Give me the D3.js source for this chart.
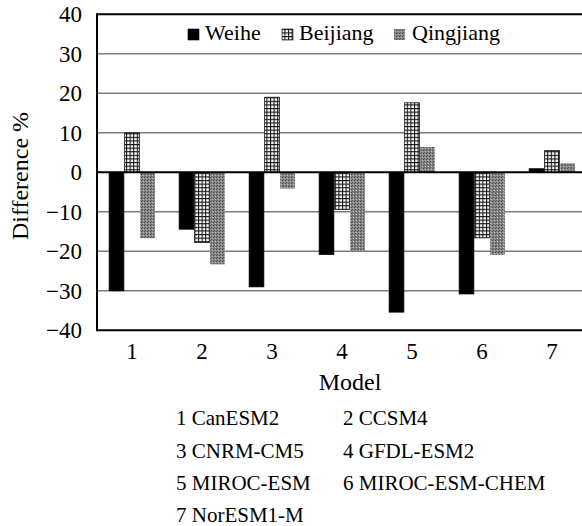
<!DOCTYPE html>
<html><head><meta charset="utf-8">
<script src="https://cdn.jsdelivr.net/npm/d3@7"></script>
<style>body{margin:0;background:#fff;} svg{display:block;}</style>
</head><body>
<script>
const models = ["1","2","3","4","5","6","7"];
const series = ["Weihe","Beijiang","Qingjiang"];
const weihe     = [-30.0, -14.4, -29.0, -20.8, -35.4, -30.8, 0.9];
const beijiang  = [10.0, -17.8, 19.0, -9.4, 17.6, -16.6, 5.5];
const qingjiang = [-16.7, -23.3, -4.1, -20.1, 6.4, -20.9, 2.3];
const yTicks = [-40,-30,-20,-10,0,10,20,30,40];
const modelNames = ["1 CanESM2","2 CCSM4","3 CNRM-CM5","4 GFDL-ESM2","5 MIROC-ESM","6 MIROC-ESM-CHEM","7 NorESM1-M"];

const FONT = "'Liberation Serif', 'Times New Roman', 'DejaVu Serif', serif";
const W = 582, H = 526;
const svg = d3.select("body").append("svg").attr("width", W).attr("height", H)
  .style("font-family", FONT);
const defs = svg.append("defs");
// grid pattern
const pg = defs.append("pattern").attr("id","grid").attr("patternUnits","userSpaceOnUse")
  .attr("width",3.6).attr("height",3.6);
pg.append("rect").attr("width",3.6).attr("height",3.6).attr("fill","#fff");
pg.append("path").attr("d","M0,0.5H3.6M0.5,0V3.6").attr("stroke","#111").attr("stroke-width",1.1);
// stipple pattern
const ps = defs.append("pattern").attr("id","stip").attr("patternUnits","userSpaceOnUse")
  .attr("width",3).attr("height",3);
ps.append("rect").attr("width",3).attr("height",3).attr("fill","#858585");
ps.append("rect").attr("x",0).attr("y",0).attr("width",1).attr("height",1).attr("fill","#4a4a4a");
ps.append("rect").attr("x",2).attr("y",1).attr("width",1).attr("height",1).attr("fill","#bcbcbc");
ps.append("rect").attr("x",1).attr("y",2).attr("width",1).attr("height",1).attr("fill","#5a5a5a");

const fills = {Weihe:"#000", Beijiang:"url(#grid)", Qingjiang:"url(#stip)"};
const strokes = {Weihe:"#000", Beijiang:"#111", Qingjiang:"none"};

const pLeft = 97, pRight = 587, pTop = 14.3, pBottom = 330.3;
const y = d3.scaleLinear().domain([-40,40]).range([pBottom, pTop]);
const x0 = d3.scaleBand().domain(models).range([pLeft, pRight]).padding(0);
const groupW = 46.5;
const x1 = d3.scaleBand().domain(series).range([0, groupW]).padding(0);
const off = (x0.bandwidth() - groupW)/2;

// gridlines
svg.append("g").selectAll("line").data(yTicks.filter(t=>t!==0 && Math.abs(t)!==40)).join("line")
  .attr("x1",pLeft).attr("x2",pRight).attr("y1",d=>y(d)).attr("y2",d=>y(d))
  .attr("stroke","#7c7c7c").attr("stroke-width",1.6);

const data = models.map((m,i)=>({m, vals:{Weihe:weihe[i],Beijiang:beijiang[i],Qingjiang:qingjiang[i]}}));
const g = svg.append("g");
data.forEach(d=>{
  series.forEach(s=>{
    const v = d.vals[s];
    const xx = x0(d.m)+off+x1(s);
    g.append("rect").attr("x",xx+0.4).attr("width",x1.bandwidth()-0.8)
      .attr("y",y(Math.max(0,v))).attr("height",Math.abs(y(v)-y(0)))
      .attr("fill",fills[s]).attr("stroke",strokes[s]).attr("stroke-width",0.8);
  });
});

// frame
svg.append("line").attr("x1",pLeft).attr("x2",pRight).attr("y1",y(40)).attr("y2",y(40)).attr("stroke","#000").attr("stroke-width",2);
svg.append("line").attr("x1",pLeft).attr("x2",pRight).attr("y1",y(-40)).attr("y2",y(-40)).attr("stroke","#000").attr("stroke-width",2);
svg.append("line").attr("x1",pLeft).attr("x2",pRight).attr("y1",y(0)).attr("y2",y(0)).attr("stroke","#000").attr("stroke-width",2);
svg.append("line").attr("x1",pLeft).attr("x2",pLeft).attr("y1",y(40)-1).attr("y2",y(-40)+1).attr("stroke","#000").attr("stroke-width",2);

// y axis
const ya = svg.append("g").attr("transform",`translate(${pLeft},0)`)
  .call(d3.axisLeft(y).tickValues(yTicks).tickSize(0).tickPadding(15));
ya.attr("font-family", null);
ya.select(".domain").remove();
ya.selectAll("text").style("font-size","23px").style("font-family",FONT).attr("fill","#000");
// x axis
const xa = svg.append("g").attr("transform",`translate(0,${pBottom})`)
  .call(d3.axisBottom(x0).tickSize(0).tickPadding(12));
xa.attr("font-family", null);
xa.select(".domain").remove();
xa.selectAll("text").style("font-size","23px").style("font-family",FONT).attr("fill","#000");

svg.append("text").attr("transform","translate(28,176) rotate(-90)").attr("text-anchor","middle")
  .style("font-size","24px").style("font-family",FONT).text("Difference %");
svg.append("text").attr("x",350).attr("y",390).attr("text-anchor","middle")
  .style("font-size","24px").style("font-family",FONT).text("Model");

// legend
const legX = {Weihe:[188,205], Beijiang:[282,299], Qingjiang:[394,412]};
series.forEach(s=>{
  svg.append("rect").attr("x",legX[s][0]).attr("y",29).attr("width",11).attr("height",11)
    .attr("fill",fills[s]).attr("stroke",s==="Qingjiang"?"none":"#000").attr("stroke-width",0.6);
  svg.append("text").attr("x",legX[s][1]).attr("y",40).style("font-size","22px").style("font-family",FONT).text(s);
});

// model list
const colX = [176, 343];
const rowY = [425, 458, 490, 522];
modelNames.forEach((n,i)=>{
  svg.append("text").attr("x",colX[i%2]).attr("y",rowY[Math.floor(i/2)])
    .style("font-size","21px").style("font-family",FONT).text(n);
});
</script>
</body></html>
